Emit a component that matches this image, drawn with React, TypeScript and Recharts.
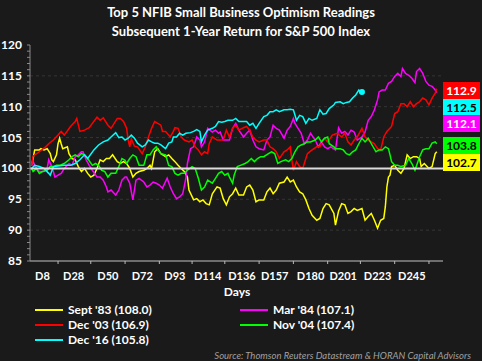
import { LineChart, Line, XAxis, YAxis, ReferenceLine } from "recharts";

type Pt = [number, number];

// [trading day, index value]
const sep83: Pt[] = [
  [1, 100.5], [2, 101.6], [3, 103], [6, 103], [7, 103.2], [9, 103], [11, 103.2], [13, 102.4], [14, 101.4], [15, 101.1],
  [17, 102.2], [18, 104], [19, 104.9], [20, 104], [21, 103.2], [24, 103.5], [25, 102.4], [27, 101.6], [29, 101.4], [31, 100.3],
  [33, 99.5], [35, 100], [37, 99.2], [39, 98.6], [41, 98.9], [43, 100], [45, 101.4], [47, 101.1], [49, 101.6], [51, 101.6],
  [53, 102.2], [56, 101.1], [58, 100.8], [60, 101.1], [62, 100.8], [64, 100], [66, 98.6], [68, 99.2], [70, 99.5], [73, 99.7],
  [75, 100], [77, 100.5], [78, 100], [80, 102.7], [82, 103.2], [84, 102.4], [87, 101.9], [89, 102.2], [91, 101.6], [93, 101.1],
  [95, 100.5], [97, 100], [99, 99.5], [101, 98.6], [102, 96.5], [105, 94.9], [107, 95.1], [109, 94.6], [111, 94.9], [113, 94.3],
  [115, 94.1], [117, 95.9], [120, 97], [122, 96.8], [124, 95.1], [126, 94.1], [128, 95.4], [130, 95.9], [132, 96.8], [134, 95.7],
  [137, 95.7], [139, 97], [141, 97.3], [143, 96.5], [145, 94.6], [147, 94.9], [150, 94.9], [152, 96.2], [154, 96.8], [156, 95.9],
  [158, 96.5], [160, 97.6], [163, 97.8], [165, 98.6], [167, 97.8], [169, 98.1], [171, 97], [173, 96.2], [175, 95.9], [177, 94.9],
  [179, 93.5], [181, 92.4], [184, 91.6], [186, 91.9], [188, 93.5], [190, 94.3], [192, 94.1], [195, 92.7], [196, 90.8], [198, 93.1],
  [200, 94.3], [202, 94.1], [204, 92.7], [206, 93], [208, 93.5], [210, 93.2], [213, 93.5], [215, 91.6], [217, 92.2], [219, 92.7],
  [221, 91.6], [223, 90.3], [225, 91.6], [227, 91.9], [228, 93.8], [229, 97], [230, 98.6], [231, 98.9], [232, 100.3], [234, 100.5],
  [236, 99.7], [238, 99.2], [240, 100], [242, 102.2], [244, 101.6], [246, 101.9], [248, 101.9], [250, 101.6], [251, 100.3], [253, 100.8],
  [256, 100], [258, 100.3], [260, 102.4], [261, 102.7],
];

const mar84: Pt[] = [
  [1, 100.5], [2, 101.1], [4, 100], [6, 99.5], [9, 99.5], [11, 100], [12, 101.4], [14, 100.3], [16, 98.6], [18, 98.9],
  [20, 99.2], [22, 100], [25, 100.8], [27, 100.5], [29, 101.9], [31, 102.2], [33, 102.7], [34, 102.7], [36, 101.4], [38, 100.5],
  [40, 99.7], [43, 98.6], [45, 98.6], [47, 98.1], [49, 97], [50, 96.2], [52, 96.5], [55, 95.7], [57, 96.5], [59, 98.1],
  [61, 98.6], [62, 98.6], [64, 97.6], [66, 94.9], [68, 98.1], [70, 98.4], [73, 97.8], [75, 97], [77, 97.3], [79, 97.8],
  [81, 97.6], [83, 97.3], [85, 96.8], [88, 98.4], [90, 97], [92, 95.9], [94, 95.1], [96, 95.4], [98, 95.9], [100, 98.4],
  [101, 100.8], [103, 103.2], [105, 103.5], [107, 105.1], [109, 104.6], [110, 103.5], [112, 104.3], [114, 106.5], [117, 105.9], [119, 106.2],
  [121, 105.7], [122, 105.9], [124, 104.6], [126, 104.6], [128, 104.6], [130, 106.5], [132, 107.3], [134, 106.2], [137, 105.1], [139, 105.7],
  [141, 106.2], [143, 104.6], [145, 103.5], [147, 103.2], [150, 103], [152, 104.6], [154, 105.1], [156, 107], [158, 106.5], [160, 106.2],
  [163, 104.9], [165, 106.2], [167, 106.8], [169, 108.1], [170, 107.3], [172, 106.5], [174, 105.7], [176, 104], [178, 104.6], [180, 105.7],
  [183, 104.6], [185, 103.5], [187, 104.3], [189, 103.5], [191, 103.2], [193, 103.5], [196, 103], [198, 106.6], [200, 105.7], [202, 106],
  [204, 105.4], [206, 106.2], [208, 105.9], [210, 104.6], [213, 105.1], [215, 105.9], [217, 107.8], [219, 108.4], [221, 109.5], [223, 111.1],
  [224, 112.4], [226, 112.7], [228, 112.7], [230, 113.8], [232, 114.1], [234, 114.9], [236, 115.4], [238, 114.9], [239, 116.2], [241, 115.4],
  [243, 115.1], [245, 114.6], [247, 113.9], [248, 115.7], [250, 116.2], [252, 115.4], [254, 114.1], [256, 113.5], [258, 113.3], [260, 112.7],
  [261, 112.3],
];

const dec03: Pt[] = [
  [1, 100.5], [2, 102], [6, 102.7], [10, 103.5], [12, 104], [15, 104.6], [18, 105.4], [20, 106], [22, 105.4], [26, 106.8],
  [29, 107.6], [30, 108.1], [32, 106], [35, 106.2], [38, 106.6], [40, 107.3], [43, 108.3], [45, 107.8], [47, 108.2], [50, 107],
  [52, 106.5], [54, 107.3], [56, 108.1], [58, 108.1], [60, 107.6], [62, 106.5], [63, 104.6], [64, 103.5], [65, 104.8], [67, 103.6],
  [69, 103.5], [72, 102.4], [74, 103.5], [76, 105.1], [78, 106.5], [80, 107.6], [82, 107.3], [84, 107], [85, 106], [87, 106],
  [90, 105.1], [92, 106], [93, 106.6], [95, 106.5], [97, 105.1], [99, 104.6], [102, 104.3], [104, 104.6], [106, 103.5], [108, 103],
  [110, 102.2], [112, 102.7], [114, 102.4], [115, 104], [117, 105.1], [120, 104.6], [122, 104.6], [124, 104.6], [126, 106.2], [128, 105.1],
  [130, 106.5], [132, 107], [134, 106.2], [137, 106.6], [139, 106.8], [141, 106.2], [143, 105.1], [145, 104.6], [147, 104.3], [150, 104.6],
  [152, 104.6], [154, 103.5], [156, 103.2], [158, 102.7], [160, 101.6], [163, 102.7], [165, 103], [167, 103.5], [168, 101.4], [169, 99.7],
  [171, 101.1], [173, 100.3], [175, 100], [176, 100.8], [178, 102.4], [181, 103], [184, 103.5], [186, 103.5], [188, 104.6], [189, 104.9],
  [191, 104.3], [194, 105.4], [197, 105.7], [200, 105.1], [202, 105.7], [204, 104.3], [206, 103.8], [208, 104.6], [210, 105.1], [213, 106.5],
  [215, 105.1], [217, 104.6], [219, 104.3], [221, 104], [223, 103.2], [225, 103], [227, 105.1], [229, 106], [232, 106.8], [234, 108.9],
  [236, 109.2], [238, 110.5], [240, 110.5], [242, 110], [244, 110.8], [246, 110], [248, 110.5], [250, 110.8], [252, 111.4], [254, 111.1],
  [256, 110.3], [258, 111.4], [260, 112.2], [261, 112.9],
];

const nov04: Pt[] = [
  [1, 100], [2, 99.5], [4, 100], [6, 99.2], [8, 99.5], [11, 99.7], [13, 100.3], [15, 100.3], [17, 100.5], [19, 100.5],
  [22, 100.8], [25, 101.4], [27, 101.9], [29, 102.2], [31, 101.9], [33, 102.4], [35, 102.2], [37, 101.6], [40, 100.5], [42, 100.8],
  [44, 100.5], [46, 99.7], [48, 99.5], [50, 98.6], [52, 99.2], [55, 99.2], [57, 100.3], [59, 101.6], [61, 101.3], [62, 100.8],
  [64, 101.6], [66, 102.2], [68, 101.9], [70, 100.5], [73, 100.5], [75, 102.2], [77, 102.2], [79, 103], [81, 103.5], [82, 103],
  [84, 102.4], [87, 102.2], [89, 100.5], [91, 100.3], [93, 99.2], [95, 98.9], [97, 99.2], [99, 99.2], [101, 99.7], [104, 100.3],
  [106, 100], [108, 98.4], [110, 96.5], [112, 97], [114, 98.1], [117, 97.6], [119, 98.4], [121, 99.2], [123, 99.5], [125, 98.9],
  [127, 99.2], [128, 98.6], [130, 97.6], [131, 98.9], [133, 100.3], [135, 100.5], [138, 100.8], [140, 101.1], [142, 101.6], [144, 101.1],
  [146, 101.6], [148, 101.9], [150, 101.9], [153, 102.4], [155, 102.7], [157, 102.4], [159, 100.8], [161, 101.1], [164, 101.4], [166, 101.1],
  [168, 101.6], [170, 102.7], [172, 103.5], [174, 103.8], [176, 104], [178, 104.3], [180, 104.3], [183, 104.6], [185, 105.1], [187, 104.3],
  [189, 104.9], [191, 105.1], [192, 104], [195, 103.5], [196, 103.2], [199, 103.2], [201, 103], [203, 102.4], [205, 102.2], [207, 102.7],
  [209, 103], [211, 104], [213, 104.9], [215, 104.3], [217, 104.9], [219, 104], [222, 102.7], [224, 103], [226, 103], [228, 103.5],
  [230, 103.2], [231, 102.2], [232, 101.1], [234, 100.5], [236, 100.5], [238, 100.3], [241, 100.5], [243, 101.6], [245, 100.8], [247, 99.7],
  [250, 101.9], [252, 103], [254, 103.2], [256, 103.2], [258, 104.1], [260, 104.3], [261, 104],
];

const dec16: Pt[] = [
  [1, 100], [3, 100.5], [6, 100.3], [9, 100], [12, 99.2], [13, 98.9], [15, 100.3], [18, 100.4], [22, 100.5], [26, 100.5],
  [29, 100.8], [32, 101.4], [35, 102.2], [37, 101.6], [41, 103], [44, 103.8], [47, 104.3], [50, 104.6], [52, 105.1], [55, 105.8],
  [57, 105], [59, 105.1], [61, 104.6], [63, 104.9], [65, 105.4], [67, 104.9], [69, 104.1], [72, 103.5], [74, 103.8], [76, 104.6],
  [78, 104.3], [80, 104.1], [82, 104.1], [84, 103.8], [87, 103.2], [89, 104.1], [91, 104.3], [92, 105.1], [94, 105.1], [96, 105.7],
  [98, 105.4], [100, 105.7], [103, 105.8], [105, 106], [107, 106.3], [109, 106], [110, 104.3], [112, 105.4], [114, 106.2], [117, 106.5],
  [119, 106.8], [121, 107.6], [123, 107.5], [125, 107.6], [127, 107.8], [130, 107.8], [132, 108.1], [134, 107.6], [137, 107.6], [139, 107.6],
  [141, 107], [143, 107.3], [145, 106.5], [147, 107.3], [150, 108.4], [152, 108.6], [154, 109.2], [156, 109.2], [158, 109.5], [160, 109.2],
  [163, 109.5], [165, 109.5], [167, 109.6], [169, 109.5], [171, 107.8], [173, 108.6], [175, 108.4], [177, 107.3], [179, 108.1], [181, 107.8],
  [184, 108.1], [186, 109.5], [188, 108.8], [190, 108.9], [192, 109.7], [195, 110.3], [196, 110.7], [199, 110.8], [201, 110.5], [203, 110.7],
  [205, 110.8], [207, 111.4], [209, 111.9], [211, 112.7], [212, 112.4], [213, 112.4],
];

const labelDays = [8, 28, 50, 72, 93, 114, 136, 157, 180, 201, 223, 245];
const tickDays = [18, 39, 61, 83, 104, 125, 147, 169, 191, 212, 234, 256];
const yLabels = [85, 90, 95, 100, 105, 110, 115, 120];
const gridLevels = [90, 95, 105, 110, 115];

const series = [
  { name: "Sept '83 (108.0)", data: sep83, color: "#ffff00" },
  { name: "Mar '84 (107.1)", data: mar84, color: "#ff00ff" },
  { name: "Dec '03 (106.9)", data: dec03, color: "#ff0000" },
  { name: "Nov '04 (107.4)", data: nov04, color: "#00ff00" },
  { name: "Dec '16 (105.8)", data: dec16, color: "#00ffff" },
];

const endLabels = [
  { text: "112.9", bg: "#ff0000", fg: "#fff", top: 82 },
  { text: "112.5", bg: "#00ffff", fg: "#000", top: 99 },
  { text: "112.1", bg: "#ff00ff", fg: "#fff", top: 115 },
  { text: "103.8", bg: "#00ff00", fg: "#000", top: 137 },
  { text: "102.7", bg: "#ffff00", fg: "#000", top: 154 },
];

const FONT = "Lato, 'Open Sans', sans-serif";

const yTicks: number[] = [];
for (let v = 85; v <= 120; v++) yTicks.push(v);

const toRows = (pts: Pt[]) => pts.map(([day, v]) => ({ day, v }));

const XTick = ({ x, y, payload }: any) => {
  if (labelDays.includes(payload.value)) {
    return (
      <text x={x} y={y + 19} textAnchor="middle" fill="#fff" fontSize={11} fontWeight="bold" fontFamily={FONT}>
        D{payload.value}
      </text>
    );
  }
  return <line x1={x} x2={x} y1={y} y2={y + 3} stroke="#bbb" strokeWidth={1} />;
};

const YTick = ({ x, y, payload }: any) => {
  if (!yLabels.includes(payload.value)) return <g />;
  return (
    <text x={x} y={y} dy={4} textAnchor="end" fill="#fff" fontSize={12} fontWeight="bold" fontFamily={FONT}>
      {payload.value}
    </text>
  );
};

export default function App() {
  const legendRows = [
    [series[0], series[1]],
    [series[2], series[3]],
    [series[4]],
  ];
  return (
    <div style={{ position: "absolute", left: 0, top: 0, width: 482, height: 361, background: "#1a1a1a", fontFamily: FONT, overflow: "hidden" }}>
      <div style={{ position: "absolute", left: 0, width: 482, top: 3, textAlign: "center", color: "#fff", fontWeight: "bold", fontSize: 13, lineHeight: "19px" }}>
        Top 5 NFIB Small Business Optimism Readings
        <br />
        Subsequent 1-Year Return for S&amp;P 500 Index
      </div>
      <LineChart width={482} height={361} margin={{ top: 45, right: 39, bottom: 0, left: 0 }}>
        <XAxis
          dataKey="day"
          type="number"
          domain={[0, 265]}
          ticks={[...labelDays, ...tickDays].sort((a, b) => a - b)}
          interval={0}
          tick={<XTick />}
          tickLine={false}
          tickSize={0}
          tickMargin={0}
          height={100}
          axisLine={{ stroke: "#6e6e6e", strokeWidth: 2 }}
        />
        <YAxis
          type="number"
          domain={[85, 120]}
          ticks={yTicks}
          interval={0}
          width={30}
          tick={<YTick />}
          tickSize={3}
          tickMargin={5}
          tickLine={{ stroke: "#8a8a8a" }}
          axisLine={{ stroke: "#8a8a8a" }}
        />
        {gridLevels.map((g) => (
          <ReferenceLine key={g} y={g} stroke="#353535" strokeDasharray="3 3" />
        ))}
        {series.map((s, i) => (
          <Line
            key={s.name}
            data={toRows(s.data)}
            dataKey="v"
            name={s.name}
            stroke={s.color}
            strokeWidth={1.5}
            isAnimationActive={false}
            dot={
              i === 4
                ? (p: any) =>
                    p.index === s.data.length - 1 ? (
                      <circle key="end" cx={p.cx} cy={p.cy} r={3} fill={s.color} />
                    ) : (
                      <g key={p.index} />
                    )
                : false
            }
          />
        ))}
        <ReferenceLine y={100} stroke="#dcdcdc" strokeWidth={2} />
      </LineChart>
      {endLabels.map((l) => (
        <div
          key={l.text}
          style={{
            position: "absolute", left: 443, top: l.top, width: 37, height: 17, background: l.bg, color: l.fg,
            fontSize: 12, fontWeight: "bold", lineHeight: "17px", textAlign: "center",
          }}
        >
          {l.text}
        </div>
      ))}
      <div style={{ position: "absolute", left: 0, width: 474, top: 284, textAlign: "center", color: "#fff", fontWeight: "bold", fontSize: 12 }}>
        Days
      </div>
      {legendRows.map((row, r) =>
        row.map((s, c) => (
          <div key={s.name} style={{ position: "absolute", left: c === 0 ? 35 : 240, top: 302 + r * 15, height: 15, display: "flex", alignItems: "center" }}>
            <div style={{ width: 28, height: 2, background: s.color, marginRight: 5 }} />
            <span style={{ color: "#fff", fontWeight: "bold", fontSize: 12 }}>{s.name}</span>
          </div>
        ))
      )}
      <div style={{ position: "absolute", right: 11, top: 350, color: "#a0a0a0", fontStyle: "italic", fontSize: 9.5 }}>
        Source: Thomson Reuters Datastream &amp; HORAN Capital Advisors
      </div>
    </div>
  );
}
